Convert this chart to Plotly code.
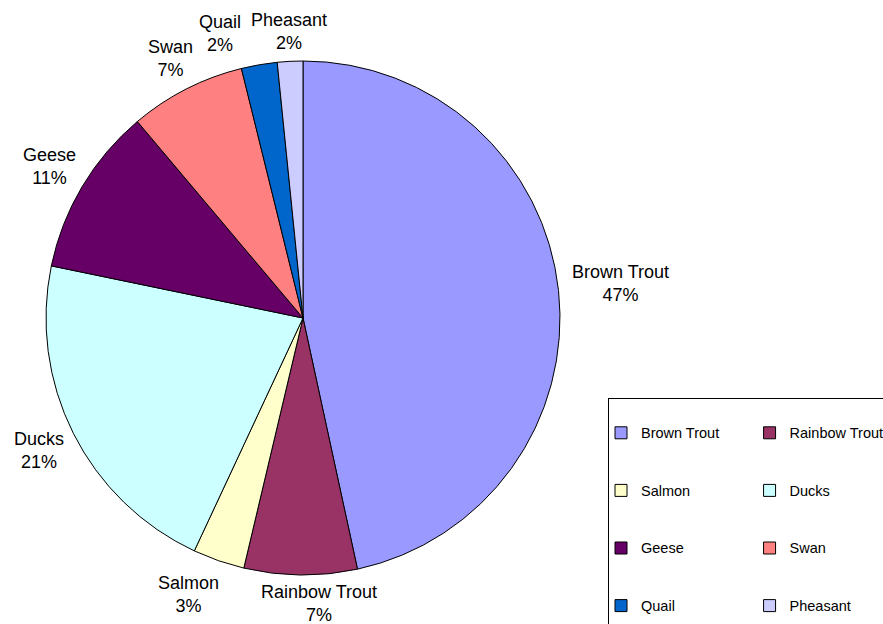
import math
import plotly.graph_objects as go

categories = ["Brown Trout", "Rainbow Trout", "Salmon", "Ducks", "Geese", "Swan", "Quail", "Pheasant"]
values = [46.6, 7.1, 3.25, 21.3, 10.6, 7.3, 2.25, 1.6]
colors = ["#9999FF", "#993366", "#FFFFCC", "#CCFFFF", "#660066", "#FF8080", "#0066CC", "#CCCCFF"]

W, H = 883, 624
FONT = "Liberation Sans, Arial, sans-serif"
LABEL_SIZE = 18

# layout geometry (pixels): plot area is the left 608 px, pie box inside it
PLOT_W, PLOT_H = 608, 624
PIE_X0, PIE_X1, PIE_Y0, PIE_Y1 = 46, 560, 61, 575
cx, cy = (PIE_X0 + PIE_X1) / 2, (PIE_Y0 + PIE_Y1) / 2
r = min(PIE_X1 - PIE_X0, PIE_Y1 - PIE_Y0) / 2

legend_labels = ["<br><span style='font-size:14.5px'>" + c + "</span><br>" for c in categories]

fig = go.Figure(
    go.Pie(
        labels=legend_labels,
        values=values,
        sort=False,
        direction="clockwise",
        rotation=0,
        marker=dict(colors=colors, line=dict(color="black", width=1)),
        textinfo="none",
        domain=dict(x=[PIE_X0 / PLOT_W, PIE_X1 / PLOT_W], y=[1 - PIE_Y1 / PLOT_H, 1 - PIE_Y0 / PLOT_H]),
        hoverinfo="skip",
    )
)

# data labels: placed just outside each slice, along its mid-angle
total = sum(values)
char_w = 0.55 * LABEL_SIZE
hh = 1.2 * LABEL_SIZE
gap = 6
boxes = []
cum = 0.0
for cat, v in zip(categories, values):
    theta = math.radians(360 * (cum + v / 2) / total)
    cum += v
    pct = f"{round(100 * v / total)}%"
    hw = max(len(cat), len(pct)) * char_w / 2
    s, c = math.sin(theta), math.cos(theta)
    d = gap + abs(s) * hw + abs(c) * hh
    boxes.append([cat, pct, cx + (r + d) * s, cy - (r + d) * c, hw])

# resolve crowding of neighbouring labels
for i in range(len(boxes) - 2, -1, -1):
    a, b = boxes[i], boxes[i + 1]
    if abs(a[3] - b[3]) >= 2 * hh:
        continue
    left, right = (a, b) if a[2] < b[2] else (b, a)
    if a[3] < cy and b[3] < cy:      # top: push the outer label aside
        need = (left[2] + left[4]) - (right[2] - right[4]) + 4
        if need > 0:
            left[2] -= need
    elif a[3] > cy and b[3] > cy:    # bottom: spread both apart
        need = (left[2] + left[4]) - (right[2] - right[4]) + 36
        if need > 0:
            left[2] -= need / 2
            right[2] += need / 2

for cat, pct, x, y, hw in boxes:
    fig.add_annotation(
        x=x / PLOT_W, y=1 - y / PLOT_H, xref="paper", yref="paper",
        text=f"{cat}<br>{pct}", showarrow=False, align="center",
        xanchor="center", yanchor="middle",
        font=dict(family=FONT, size=LABEL_SIZE, color="black"),
    )

fig.update_layout(
    width=W,
    height=H,
    margin=dict(l=0, r=W - PLOT_W, t=0, b=0, autoexpand=False),
    paper_bgcolor="white",
    plot_bgcolor="white",
    font=dict(family=FONT, color="black"),
    showlegend=True,
    legend=dict(
        orientation="h",
        x=1.0,
        xanchor="left",
        y=1 - 398 / 624,
        yanchor="top",
        entrywidthmode="fraction",
        entrywidth=0.3365,
        indentation=-8,
        bordercolor="black",
        borderwidth=1,
        bgcolor="white",
        font=dict(size=14, color="black"),
        itemclick=False,
        itemdoubleclick=False,
    ),
)

fig.write_html("out.html")
